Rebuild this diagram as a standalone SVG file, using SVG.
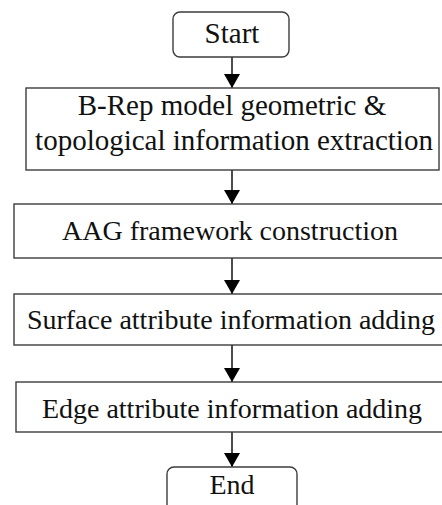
<svg xmlns="http://www.w3.org/2000/svg" width="442" height="505" viewBox="0 0 442 505">
  <style>
    .box { fill: #ffffff; stroke: #3c3c3c; stroke-width: 1.4; }
    .lbl { font-family: "Liberation Serif", "Times New Roman", serif; font-size: 28px; fill: #111111; text-anchor: middle; }
    .big { font-size: 29px; }
    .flow { stroke: #000000; stroke-width: 1.4; fill: none; marker-end: url(#head); }
  </style>
  <defs>
    <marker id="head" viewBox="0 0 14 16" refX="14" refY="8" markerWidth="14" markerHeight="16" markerUnits="userSpaceOnUse" orient="auto">
      <path d="M0,0 L14,8 L0,16 Z" fill="#000000"/>
    </marker>
  </defs>

  <g id="connectors">
    <line class="flow" x1="232" y1="57" x2="232" y2="88"/>
    <line class="flow" x1="232" y1="170" x2="232" y2="204"/>
    <line class="flow" x1="232" y1="258" x2="232" y2="294"/>
    <line class="flow" x1="232" y1="345" x2="232" y2="382"/>
    <line class="flow" x1="232" y1="432" x2="232" y2="467"/>
  </g>

  <g id="start">
    <rect class="box" x="173" y="12" width="116" height="45" rx="7"/>
    <text class="lbl big" x="232" y="43">Start</text>
  </g>

  <g id="extraction">
    <rect class="box" x="26" y="88" width="413" height="82"/>
    <text class="lbl big" x="232" y="115">B-Rep model geometric &amp;</text>
    <text class="lbl big" x="234" y="150">topological information extraction</text>
  </g>

  <g id="aag">
    <rect class="box" x="14" y="204" width="440" height="54"/>
    <text class="lbl" x="230" y="240">AAG framework construction</text>
  </g>

  <g id="surface">
    <rect class="box" x="14" y="294" width="440" height="51"/>
    <text class="lbl" x="231" y="329">Surface attribute information adding</text>
  </g>

  <g id="edge">
    <rect class="box" x="16" y="382" width="440" height="50"/>
    <text class="lbl" x="232" y="418">Edge attribute information adding</text>
  </g>

  <g id="end">
    <rect class="box" x="167" y="467" width="130" height="60" rx="7"/>
    <text class="lbl" x="232" y="494">End</text>
  </g>
</svg>
